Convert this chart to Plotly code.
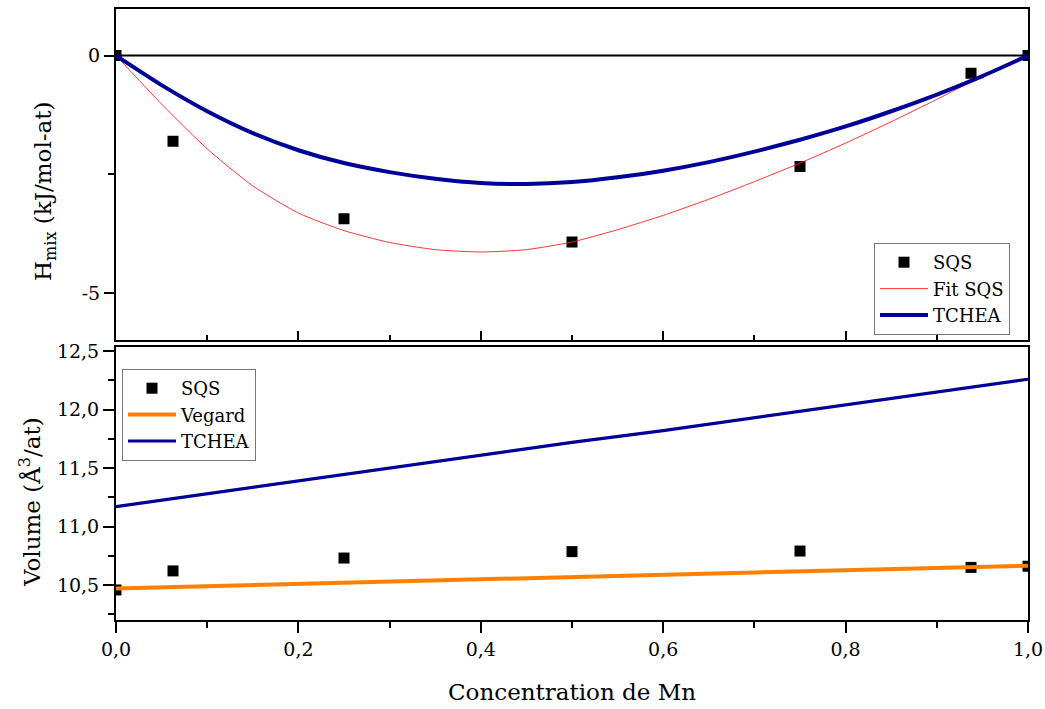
import plotly.graph_objects as go

# ---------------- data ----------------
sqs_x = [0, 0.0625, 0.25, 0.5, 0.75, 0.9375, 1.0]
sqs_h = [0, -1.80, -3.43, -3.92, -2.33, -0.37, 0]

curve_x = [0, 0.05, 0.10, 0.15, 0.20, 0.25, 0.30, 0.35, 0.40, 0.45, 0.50,
           0.55, 0.60, 0.65, 0.70, 0.75, 0.80, 0.85, 0.90, 0.95, 1.0]
fit_h = [0, -1.02, -1.96, -2.74, -3.31, -3.68, -3.93, -4.08, -4.13, -4.08, -3.92,
         -3.66, -3.36, -3.02, -2.65, -2.26, -1.84, -1.39, -0.92, -0.43, 0]
tchea_h = [0, -0.62, -1.17, -1.63, -1.99, -2.26, -2.45, -2.59, -2.68, -2.70, -2.66,
           -2.56, -2.42, -2.24, -2.02, -1.77, -1.49, -1.17, -0.82, -0.43, 0]

sqs_v = [10.457, 10.62, 10.73, 10.785, 10.79, 10.65, 10.66]
line_x = [0, 0.1, 0.2, 0.3, 0.4, 0.5, 0.6, 0.7, 0.8, 0.9, 1.0]
vegard_v = [10.47, 10.49, 10.51, 10.53, 10.55, 10.57, 10.59, 10.61, 10.63, 10.645, 10.665]
tchea_v = [11.17, 11.28, 11.39, 11.50, 11.61, 11.72, 11.82, 11.93, 12.04, 12.15, 12.26]

x_ticks = [0, 0.2, 0.4, 0.6, 0.8, 1.0]

# ---------------- style ----------------
FONT = "DejaVu Serif"
BLUE = "#000099"
ORANGE = "#ff8000"
RED = "#ff2020"

fig = go.Figure()

# top panel
fig.add_trace(go.Scatter(x=sqs_x, y=sqs_h, mode="markers", name="SQS",
                         marker=dict(symbol="square", size=11, color="black"),
                         xaxis="x", yaxis="y", legend="legend"))
fig.add_trace(go.Scatter(x=curve_x, y=fit_h, mode="lines", name="Fit SQS",
                         line=dict(color=RED, width=0.9, shape="spline", smoothing=0.6),
                         xaxis="x", yaxis="y", legend="legend"))
fig.add_trace(go.Scatter(x=curve_x, y=tchea_h, mode="lines", name="TCHEA",
                         line=dict(color=BLUE, width=4, shape="spline", smoothing=0.6),
                         xaxis="x", yaxis="y", legend="legend"))

# bottom panel
fig.add_trace(go.Scatter(x=sqs_x, y=sqs_v, mode="markers", name="SQS",
                         marker=dict(symbol="square", size=11, color="black"),
                         xaxis="x2", yaxis="y2", legend="legend2"))
fig.add_trace(go.Scatter(x=line_x, y=vegard_v, mode="lines", name="Vegard",
                         line=dict(color=ORANGE, width=4),
                         xaxis="x2", yaxis="y2", legend="legend2"))
fig.add_trace(go.Scatter(x=line_x, y=tchea_v, mode="lines", name="TCHEA",
                         line=dict(color=BLUE, width=3.2),
                         xaxis="x2", yaxis="y2", legend="legend2"))

L, R, T, B = 116, 17, 9, 89
W, H = 1045, 709
ph = H - T - B
pw = W - L - R

def py(pix):
    return (H - B - pix) / ph

def px(pix):
    return (pix - L) / pw

axis_common = dict(showline=True, linecolor="black", linewidth=2, mirror=True,
                   showgrid=False, zeroline=False, tickcolor="black", tickwidth=2,
                   automargin=False,
                   tickfont=dict(family=FONT, size=19, color="black"))

fig.update_layout(
    width=W, height=H,
    margin=dict(l=L, r=R, t=T, b=B, autoexpand=False),
    paper_bgcolor="white", plot_bgcolor="white",
    separators=", ",
    font=dict(family=FONT, size=18, color="black"),
    xaxis=dict(**axis_common, domain=[0, 1], range=[0, 1], anchor="y",
               tickvals=x_ticks, showticklabels=False, ticks="inside", ticklen=9,
               minor=dict(dtick=0.1, tick0=0, ticks="inside", ticklen=5,
                          tickwidth=2, tickcolor="black")),
    yaxis=dict(**axis_common, domain=[py(339.5), 1.0], range=[-5.97, 0.98],
               anchor="x", tickvals=[-5, 0], ticktext=["-5", "0"],
               ticks="outside", ticklen=10,
               minor=dict(tickvals=[-2.5], ticks="outside", ticklen=6,
                          tickwidth=2, tickcolor="black")),
    xaxis2=dict(**axis_common, domain=[0, 1], range=[0, 1], anchor="y2",
                tickvals=x_ticks, tickformat=".1f", ticks="outside", ticklen=11,
                minor=dict(dtick=0.1, tick0=0, ticks="outside", ticklen=6,
                           tickwidth=2, tickcolor="black")),
    yaxis2=dict(**axis_common, domain=[0, py(346.5)], range=[10.2, 12.54],
                anchor="x2", dtick=0.5, tick0=10.5, tickformat=".1f",
                ticks="outside", ticklen=11,
                minor=dict(dtick=0.25, tick0=10.25, ticks="outside", ticklen=6,
                           tickwidth=2, tickcolor="black")),
    legend=dict(x=px(874), y=py(243), xanchor="left", yanchor="top",
                bgcolor="white", bordercolor="#777777", borderwidth=1,
                font=dict(family=FONT, size=18, color="black"),
                itemwidth=48, tracegroupgap=0),
    legend2=dict(x=px(122), y=py(369), xanchor="left", yanchor="top",
                 bgcolor="white", bordercolor="#777777", borderwidth=1,
                 font=dict(family=FONT, size=18, color="black"),
                 itemwidth=48, tracegroupgap=0),
    showlegend=True,
)

# zero line in top panel
fig.add_shape(type="line", xref="x", yref="y", x0=0, x1=1, y0=0, y1=0,
              line=dict(color="black", width=2), layer="below")

# axis titles
fig.add_annotation(text="H<sub>mix</sub> (kJ/mol-at)", xref="paper", yref="paper",
                   x=px(45), y=py(192), textangle=-90, showarrow=False,
                   xanchor="center", yanchor="middle",
                   font=dict(family=FONT, size=23, color="black"))
fig.add_annotation(text="Volume (Å<sup>3</sup>/at)", xref="paper", yref="paper",
                   x=px(30), y=py(502), textangle=-90, showarrow=False,
                   xanchor="center", yanchor="middle",
                   font=dict(family=FONT, size=23, color="black"))
fig.add_annotation(text="Concentration de Mn", xref="paper", yref="paper",
                   x=0.5, y=py(692), showarrow=False,
                   xanchor="center", yanchor="middle",
                   font=dict(family=FONT, size=23, color="black"))

fig.write_html("out.html", config={"displayModeBar": False},
               post_script="document.body.style.margin='0';document.body.style.overflow='hidden';")
